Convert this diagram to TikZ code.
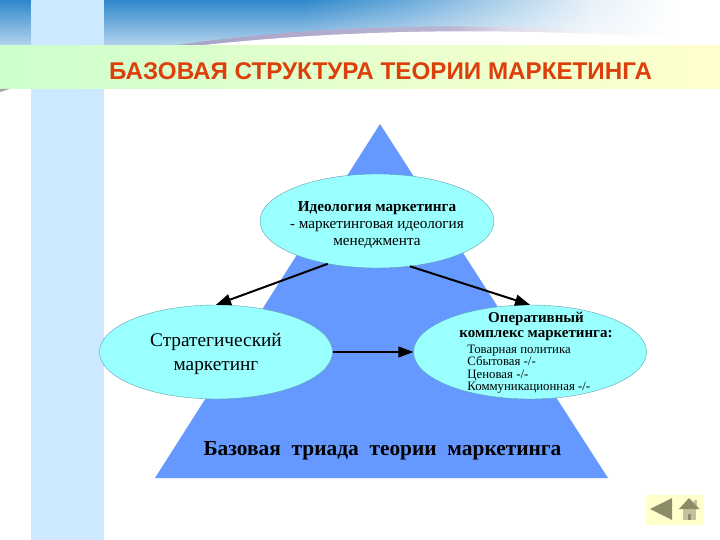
\documentclass[tikz,border=0pt]{standalone}
\usepackage{fontspec}
\setmainfont{Liberation Serif}
\newfontfamily\titlefont{Liberation Sans}
\usetikzlibrary{positioning,arrows.meta,shapes.geometric,fadings}
\definecolor{stripblue}{HTML}{CCE9FF}
\definecolor{topblue}{HTML}{2F88CC}
\definecolor{swoosh}{HTML}{9A94BE}
\definecolor{pyramid}{HTML}{6699FF}
\definecolor{bubble}{HTML}{99FFFF}
\definecolor{bubbleline}{HTML}{5F9FAF}
\definecolor{bandgreen}{HTML}{CCFFCC}
\definecolor{bandyellow}{HTML}{FFFFCC}
\definecolor{titlered}{HTML}{DD3F0C}
\definecolor{navdark}{HTML}{8C8C68}
\definecolor{navlight}{HTML}{C2C29E}
\pgfdeclarehorizontalshading{skyshade}{100bp}{
    color(0bp)=(topblue); color(46bp)=(topblue); color(53bp)=(topblue!72!white);
    color(60bp)=(topblue!38!white); color(66bp)=(topblue!12!white); color(72bp)=(white); color(100bp)=(white)}
\pgfdeclarehorizontalshading{arcshade}{100bp}{
    color(0bp)=(swoosh); color(54bp)=(swoosh!70!white);
    color(60bp)=(swoosh!35!white); color(70bp)=(swoosh!5!white); color(75bp)=(white); color(100bp)=(white)}
\tikzfading[name=skyfade, top color=transparent!100, bottom color=transparent!35]
\tikzset{
    bubblenode/.style={
        ellipse, draw=bubbleline, fill=bubble, line width=0.4pt,
        inner sep=0pt, minimum width=233pt, minimum height=94pt
    },
    bubbletext/.style={inner sep=0pt, align=center},
    arrow/.style={-{Triangle[length=15pt,width=11pt]}, line width=2pt, black},
    thinarrow/.style={-{Triangle[length=15pt,width=11pt]}, line width=1.3pt, black},
}

\begin{document}
\begin{tikzpicture}[x=1pt, y=-1pt]

\useasboundingbox (0,0) rectangle (720,540);

% ===============================
%           background
% ===============================

\fill[white] (0,0) rectangle (720,540);
\shade[shading=skyshade] (0,0) rectangle (720,46);
\fill[white, path fading=skyfade] (0,0) rectangle (720,46);
\shade[shading=arcshade]
    (170,46) .. controls (280,30) and (450,16) .. (650,37)
    -- (650,46) -- cycle;
\fill[white] (195,46) .. controls (320,32) and (470,26) .. (650,37) -- (720,37) -- (720,46) -- cycle;
\fill[stripblue] (31,0) rectangle (104,540);
\shade[left color=bandgreen, right color=bandyellow] (0,46) rectangle (720,89);
\fill[gray!70] (0,89) -- (10,89) -- (0,92) -- cycle;

\node[anchor=base west, inner sep=0pt, font=\titlefont\bfseries\fontsize{24.2}{26}\selectfont, text=titlered]
    (title) at (109,80) {БАЗОВАЯ СТРУКТУРА ТЕОРИИ МАРКЕТИНГА};

% ===============================
%             pyramid
% ===============================

\fill[pyramid] (380,124) -- (608,478) -- (155,478) -- cycle;

% ===============================
%             bubbles
% ===============================

\node[bubblenode, minimum width=234pt] (ideology) at (377,221) {};
\node[bubblenode] (strategy) at (216,352) {};
\node[bubblenode] (operative) at (530,352) {};

\node[bubbletext, font=\fontsize{15.2}{17}\selectfont, yshift=-4pt] (ideologytext) at (ideology)
    {\textbf{Идеология маркетинга}\\{\Large-} маркетинговая идеология\\менеджмента};

\node[bubbletext, font=\fontsize{19.3}{24}\selectfont, yshift=-1.5pt] (strategytext) at (strategy)
    {Стратегический\\маркетинг};

\node[bubbletext, font=\bfseries\fontsize{15}{15}\selectfont] (operhead) at (536,326)
    {Оперативный\\комплекс маркетинга:};

\node[inner sep=0pt, align=left, font=\fontsize{12.8}{12.6}\selectfont, below=4pt of operhead.south west, anchor=north west, xshift=8pt]
    (operlist) {Товарная политика\\Сбытовая -/-\\Ценовая -/-\\Коммуникационная -/-};

\node[font=\bfseries\fontsize{21.4}{24}\selectfont, anchor=base, inner sep=0pt]
    (triad) at (382.5,455) {Базовая\ \ триада\ \ теории\ \ маркетинга};

% ===============================
%              arrows
% ===============================

\draw[arrow] (ideology.221) -- (strategy.north);
\draw[arrow] (ideology.306) -- (operative.north);
\draw[thinarrow] (strategy.east) -- (operative.west);

% ===============================
%           nav buttons
% ===============================

\fill[bandyellow] (646,495) rectangle (704,525);
\fill[navdark] (650,509) -- (672,498) -- (672,520) -- cycle;
\fill[navlight] (683,509) rectangle (696,520);
\fill[navdark] (688,514) rectangle (691,520);
\fill[navlight] (694,500) rectangle (696.5,506);
\fill[navdark] (689,498) -- (699.5,509) -- (679,509) -- cycle;

\end{tikzpicture}
\end{document}
